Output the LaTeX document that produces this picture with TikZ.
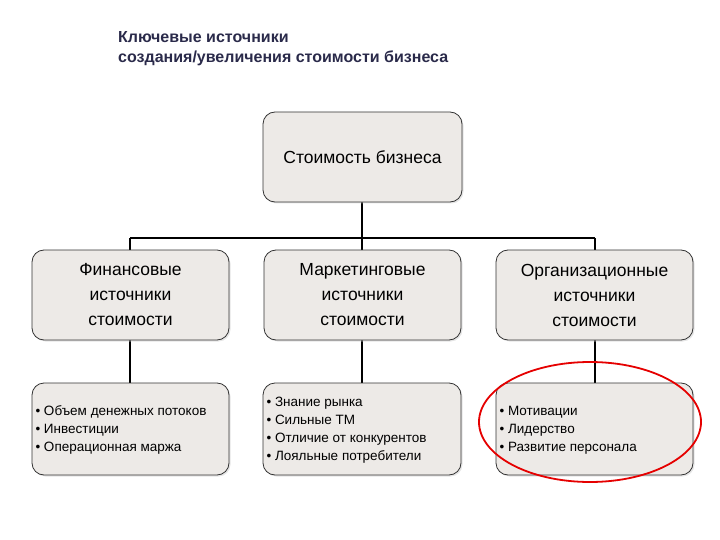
\documentclass[tikz,border=0pt]{standalone}
\usepackage{fontspec}
\setmainfont{Liberation Sans}
\usetikzlibrary{shadows}
\definecolor{boxfill}{HTML}{EDEAE7}
\definecolor{titlec}{HTML}{2A2A4A}
\begin{document}
\begin{tikzpicture}[x=1pt,y=-1pt,
  box/.style={draw=black!80,line width=0.8pt,rounded corners=12pt,fill=boxfill,
    drop shadow={shadow xshift=1.5pt,shadow yshift=-1.5pt,fill=gray!40}},
  big/.style={font=\fontsize{17.5}{25}\selectfont,align=center},
  small/.style={font=\fontsize{13.5}{18}\selectfont,align=left,anchor=west},
  link/.style={line width=1.6pt}]
\useasboundingbox (0,0) rectangle (720,540);
\node[anchor=north west,align=left,inner sep=0pt,font=\bfseries\fontsize{16}{20}\selectfont,text=titlec] (title) at (118,31) {Ключевые источники\\создания/увеличения стоимости бизнеса};
\coordinate (j) at (362,238);
\coordinate (jl) at (130,238);
\coordinate (jr) at (595,238);
\draw[link] (362,202) -- (j);
\draw[link] (jl) -- (jr);
\draw[link] (jl) -- (130,250);
\draw[link] (j) -- (362,250);
\draw[link] (jr) -- (595,250);
\draw[link] (130,340) -- (130,383);
\draw[link] (362,340) -- (362,383);
\draw[link] (595,340) -- (595,383);
\node[box,minimum width=199pt,minimum height=90pt,big] (top) at (362.5,157) {Стоимость бизнеса};
\node[box,minimum width=197pt,minimum height=90pt,big] (m1) at (130.5,295) {Финансовые\\источники\\стоимости};
\node[box,minimum width=197pt,minimum height=90pt,big] (m2) at (362.5,295) {Маркетинговые\\источники\\стоимости};
\node[box,minimum width=197pt,minimum height=90pt,big] (m3) at (594.5,295) {Организационные\\источники\\стоимости};
\node[box,minimum width=197pt,minimum height=92pt] (b1) at (130.5,429) {};
\node[box,minimum width=198pt,minimum height=92pt] (b2) at (362,429) {};
\node[box,minimum width=197pt,minimum height=92pt] (b3) at (594.5,429) {};
\node[small] (t1) at (32,430) {• Объем денежных потоков\\• Инвестиции\\• Операционная маржа};
\node[small] (t2) at (263,430) {• Знание рынка\\• Сильные ТМ\\• Отличие от конкурентов\\• Лояльные потребители};
\node[small] (t3) at (496,430) {• Мотивации\\• Лидерство\\• Развитие персонала};
\draw[red!90!black,line width=1.8pt] (590,422) ellipse [x radius=111pt,y radius=60pt];
\end{tikzpicture}
\end{document}
